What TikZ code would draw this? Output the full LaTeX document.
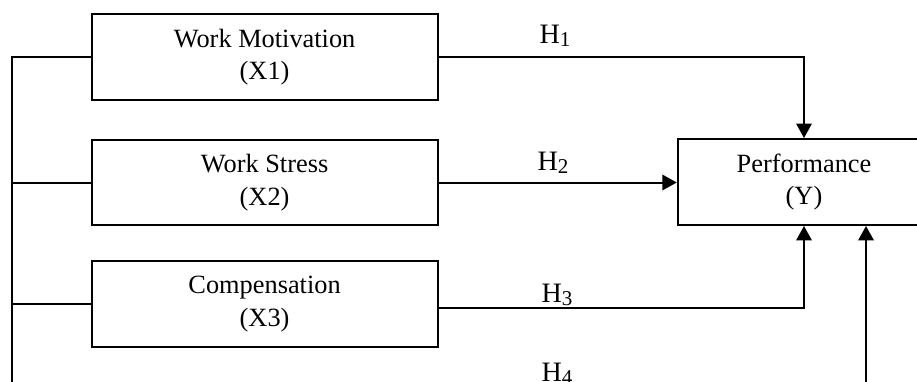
\documentclass[tikz,border=0pt]{standalone}
\usepackage{fontspec}
\setmainfont{Liberation Serif}
\usetikzlibrary{arrows.meta}
\newcommand{\hsub}[1]{H\raisebox{-0.12em}{\fontsize{12}{12}\selectfont #1}}
\begin{document}
\begin{tikzpicture}[x=0.02cm, y=-0.02cm,
	varbox/.style={rectangle, draw, line width=0.04cm, align=center, minimum width=6.92cm,
	minimum height=1.72cm, font=\fontsize{15}{18.7}\selectfont},
	conn/.style={line width=0.04cm},
	arr/.style={line width=0.04cm, -{Triangle[width=0.31cm, length=0.29cm]}},
	hyp/.style={font=\fontsize{16}{19}\selectfont}]
		
		\useasboundingbox (0,0) rectangle (917,382);
		
		%Variables
		\node (workMotivation) at (264.6,57.2) [varbox] {Work Motivation\\(X1)};
		\node (workStress) at (264.6,182.5) [varbox] {Work Stress\\(X2)};
		\node (compensation) at (264.6,303.7) [varbox] {Compensation\\(X3)};
		\node (performance) at (804,182) [varbox, minimum width=5.05cm] {Performance\\(Y)};
		
		%Bus
		\coordinate (busTop) at (12,57);
		\coordinate (busEnd) at (12,395);
		\coordinate (hFour) at (866,395);
		
		%Hypotheses
		\draw[arr] (workMotivation.east) -| (performance.north);
		\draw[arr] (workStress.east) -- (workStress.east -| performance.west);
		\draw[arr] ([yshift=-0.08cm]compensation.east) -| (performance.south);
		\draw[arr] (workMotivation.west) -| (busEnd) -| (hFour |- performance.south);
		\draw[conn] (workStress.west) -- (workStress.west -| busTop);
		\draw[conn] (compensation.west) -- (compensation.west -| busTop);
		
		%Labels
		\node (hOne) at (555,36) [hyp] {\hsub{1}};
		\node (hTwo) at (553,163) [hyp] {\hsub{2}};
		\node (hThree) at (557,295) [hyp] {\hsub{3}};
		\node (hFourLabel) at (557,374) [hyp] {\hsub{4}};
		
		\end{tikzpicture}
\end{document}
